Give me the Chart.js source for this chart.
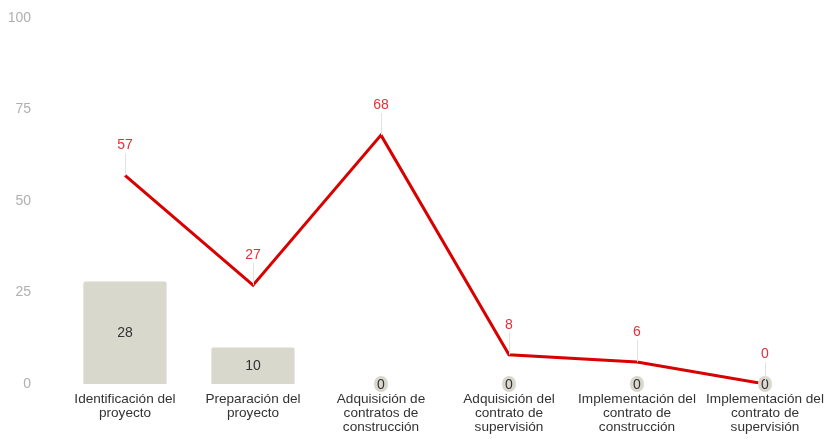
<!DOCTYPE html>
<html>
<head>
<meta charset="utf-8">
<script src="https://cdn.jsdelivr.net/npm/chart.js@4.4.1/dist/chart.umd.min.js"></script>
<style>
html,body{margin:0;padding:0;background:#fff;}
#wrap{width:829px;height:439px;}
</style>
</head>
<body>
<div id="wrap"><canvas id="chart"></canvas></div>
<script>
// chart data
const categories=[
["Identificación del","proyecto"],
["Preparación del","proyecto"],
["Adquisición de","contratos de","construcción"],
["Adquisición del","contrato de","supervisión"],
["Implementación del","contrato de","construcción"],
["Implementación del","contrato de","supervisión"]
];
const barValues=[28,10,0,0,0,0];
const lineValues=[57,27,68,8,6,0];
const yTicks=[0,25,50,75,100];

const FONT="'Liberation Sans', Arial, sans-serif";

// draws value labels (bars inside, line above with a leader)
const valueLabels={
id:"valueLabels",
afterDatasetsDraw(chart){
const c=chart.ctx;
c.save();
c.font="14px "+FONT;
c.textAlign="center";
c.textBaseline="middle";

// bar labels
chart.getDatasetMeta(1).data.forEach((bar,i)=>{
const v=barValues[i];
const txt=String(v);
if(v===0){
const w=c.measureText(txt).width+6;
const h=16;
const x=bar.x-w/2, y=bar.y-h/2;
c.fillStyle="#d8d8cc";
c.beginPath();
c.roundRect(x,y,w,h,7);
c.fill();
c.fillStyle="#333";
c.fillText(txt,bar.x,bar.y+1);
}else{
c.fillStyle="#333";
c.fillText(txt,bar.x,(bar.y+bar.base)/2);
}
});

// line labels
chart.getDatasetMeta(0).data.forEach((pt,i)=>{
c.strokeStyle="#e2e2e2";
c.lineWidth=1;
c.beginPath();
c.moveTo(pt.x+0.5,pt.y);
c.lineTo(pt.x+0.5,pt.y-22);
c.stroke();
c.fillStyle="#e5303a";
c.fillText(String(lineValues[i]),pt.x,pt.y-30);
});
c.restore();
}
};

const ctx=document.getElementById("chart").getContext("2d");

const chart=new Chart(ctx,{
data:{
labels:categories,
datasets:[
{
type:"line",
data:lineValues,
borderColor:"#d90000",
borderWidth:3,
pointRadius:0,
tension:0,
order:0
},
{
type:"bar",
data:barValues,
backgroundColor:"#d8d8cc",
borderRadius:2,
barPercentage:0.65,
categoryPercentage:1,
order:1
}
]
},
options:{
responsive:true,
maintainAspectRatio:false,
animation:false,
layout:{padding:{top:18,right:0,bottom:5,left:0}},
plugins:{
legend:{display:false},
tooltip:{enabled:false}
},
scales:{
x:{
grid:{display:false,drawTicks:false},
border:{display:false},
afterFit(axis){
// fixed height, let the last label run to the canvas edge
axis.height=50;
axis.paddingLeft=0;
axis.paddingRight=0;
},
ticks:{
color:"#333",
font:{family:FONT,size:13.6,lineHeight:1.03},
padding:8,
maxRotation:0,
autoSkip:false
}
},
y:{
min:0,
max:100,
afterBuildTicks(axis){
axis.ticks=yTicks.map(v=>({value:v}));
},
afterFit(axis){
// fixed width, and keep tick padding out of the top/bottom margins
axis.width=61;
axis.paddingTop=8;
axis.paddingBottom=8;
},
grid:{display:false,drawTicks:false},
border:{display:false},
ticks:{
color:"#b0b0b0",
font:{family:FONT,size:14},
padding:30
}
}
}
},
plugins:[valueLabels]
});
</script>
</body>
</html>
